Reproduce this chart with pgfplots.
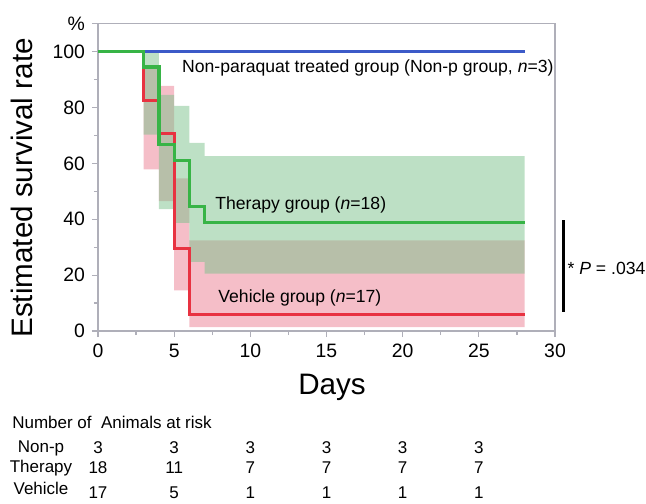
\documentclass[border=0pt]{standalone}
\usepackage{pgfplots}
\pgfplotsset{compat=1.18}
\usepackage{fontspec}
\setmainfont{Liberation Sans}

\definecolor{kmblue}{RGB}{60,90,200}
\definecolor{kmgreen}{RGB}{55,180,70}
\definecolor{kmred}{RGB}{232,50,65}
\definecolor{bandgreen}{RGB}{123,193,139}
\definecolor{bandred}{RGB}{235,125,145}
\definecolor{framegray}{RGB}{175,175,185}

\newcommand\tickfont{\fontsize{9.7}{11}\selectfont}
\newcommand\bigfont{\fontsize{14.8}{17}\selectfont}
\newcommand\annfont{\fontsize{8.8}{10}\selectfont}
\newcommand\tabfont{\fontsize{8.5}{10}\selectfont}

\begin{document}
\begin{tikzpicture}
\begin{axis}[
  at={(0,0)}, anchor=south west,
  scale only axis, width=228.5pt, height=153.7pt,
  xmin=0, xmax=30, ymin=0, ymax=110,
  clip=false,
  axis line style={framegray, line width=0.6pt},
  xtick={0,5,10,15,20,25,30}, minor xtick={2.5,7.5,12.5,17.5,22.5,27.5},
  ytick={0,20,40,60,80,100,110}, yticklabels={0,20,40,60,80,100,\%},
  minor ytick={10,30,50,70,90},
  tick align=outside, xtick pos=bottom, ytick pos=left,
  major tick length=3pt, minor tick length=2pt,
  tick style={framegray, line width=0.6pt},
  tick label style={font=\tickfont, black},
  /pgf/number format/assume math mode=true,
]
% confidence bands
\addplot[draw=none, fill=bandred, fill opacity=0.5] coordinates {
  (3,94.0) (4,94.0) (4,87.7) (5,87.7) (5,54.6) (6,54.6) (6,32.4) (28,32.4)
  (28,1.4) (6,1.4) (6,14.5) (5,14.5) (5,46.5) (4,46.5) (4,57.8) (3,57.8)};
\addplot[draw=none, fill=bandgreen, fill opacity=0.5] coordinates {
  (3,99.6) (4,99.6) (4,84.5) (5,84.5) (5,80.6) (6,80.6) (6,67.3) (7,67.3) (7,62.6) (28,62.6)
  (28,20.5) (7,20.5) (7,24.7) (6,24.7) (6,38.7) (5,38.7) (5,43.6) (4,43.6) (4,70.3) (3,70.3)};
% survival curves
\addplot[kmblue, line width=1.6pt] coordinates {(0,100) (28,100)};
\addplot[kmred, line width=1.6pt, const plot] coordinates {
  (0,100) (3,82.35) (4,70.59) (5,29.41) (6,5.88) (28,5.88)};
\addplot[kmgreen, line width=1.6pt, const plot] coordinates {
  (0,100) (3,94.44) (4,66.67) (5,61.11) (6,44.44) (7,38.89) (28,38.89)};

\node[anchor=west, inner sep=0, font=\annfont] at (axis cs:5.5,94)
  {Non-paraquat treated group (Non-p group, \textit{n}=3)};
\node[anchor=west, inner sep=0, font=\annfont] at (axis cs:7.68,45.1)
  {Therapy group (\textit{n}=18)};
\node[anchor=west, inner sep=0, font=\annfont] at (axis cs:7.88,11.8)
  {Vehicle group (\textit{n}=17)};

\draw[black, line width=1.5pt] (axis cs:30.53,39.7) -- (axis cs:30.53,6.8);
\node[anchor=west, inner sep=0, font=\annfont] at (axis cs:30.8,22.5)
  {* \textit{P} = .034};

\node[font=\bigfont] at (axis cs:15.36,-20) {Days};
\node[rotate=90, font=\bigfont] at (axis cs:-4.99,51.2) {Estimated survival rate};

% number at risk
\node[anchor=west, inner sep=0, font=\tabfont] at (axis cs:-5.65,-32.6)
  {Number of\ \ Animals at risk};
\node[font=\tabfont, inner sep=0] at (axis cs:-3.74,-41.9) {Non-p};
\node[font=\tabfont, inner sep=0] at (axis cs:-3.74,-49.0) {Therapy};
\node[font=\tabfont, inner sep=0] at (axis cs:-3.74,-56.2) {Vehicle};
\node[font=\tabfont, inner sep=0] at (axis cs:0,-41.9) {3};
\node[font=\tabfont, inner sep=0] at (axis cs:5,-41.9) {3};
\node[font=\tabfont, inner sep=0] at (axis cs:10,-41.9) {3};
\node[font=\tabfont, inner sep=0] at (axis cs:15,-41.9) {3};
\node[font=\tabfont, inner sep=0] at (axis cs:20,-41.9) {3};
\node[font=\tabfont, inner sep=0] at (axis cs:25,-41.9) {3};
\node[font=\tabfont, inner sep=0] at (axis cs:0,-49.0) {18};
\node[font=\tabfont, inner sep=0] at (axis cs:5,-49.0) {11};
\node[font=\tabfont, inner sep=0] at (axis cs:10,-49.0) {7};
\node[font=\tabfont, inner sep=0] at (axis cs:15,-49.0) {7};
\node[font=\tabfont, inner sep=0] at (axis cs:20,-49.0) {7};
\node[font=\tabfont, inner sep=0] at (axis cs:25,-49.0) {7};
\node[font=\tabfont, inner sep=0] at (axis cs:0,-58.0) {17};
\node[font=\tabfont, inner sep=0] at (axis cs:5,-58.0) {5};
\node[font=\tabfont, inner sep=0] at (axis cs:10,-58.0) {1};
\node[font=\tabfont, inner sep=0] at (axis cs:15,-58.0) {1};
\node[font=\tabfont, inner sep=0] at (axis cs:20,-58.0) {1};
\node[font=\tabfont, inner sep=0] at (axis cs:25,-58.0) {1};
\end{axis}
\pgfresetboundingbox
\path (-49pt,-86pt) rectangle (274pt,165.5pt);
\end{tikzpicture}
\end{document}
